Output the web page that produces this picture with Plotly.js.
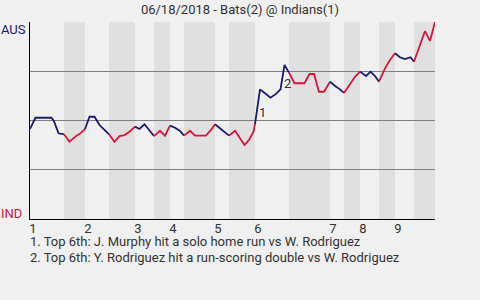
<!DOCTYPE html>
<html>
<head>
<meta charset="utf-8">
<script src="https://cdn.plot.ly/plotly-3.0.1.min.js"></script>
<style>html,body{margin:0;padding:0;background:#f0f0f0;}#chart{width:480px;height:300px;}</style>
</head>
<body>
<div id="chart"></div>
<script>
// Play index (x) and Bats (AUS) win probability in % (y)
const plays = [0.0,1.1,4.3,4.8,5.7,6.8,7.9,9.3,9.9,11.0,11.9,12.9,13.9,14.9,15.8,16.9,17.9,18.9,19.9,21.0,21.9,22.9,23.9,24.8,26.0,27.0,28.0,29.0,30.0,30.8,32.0,33.0,34.0,35.2,36.2,37.0,38.1,39.0,39.8,41.0,42.0,42.9,43.8,44.7,45.0,46.0,47.0,48.1,49.2,50.1,50.9,51.8,52.9,54.9,55.9,56.8,57.8,58.8,60.0,61.0,62.0,62.8,64.0,65.0,66.0,67.2,68.1,69.0,69.8,71.0,72.0,73.0,74.0,75.0,76.1,76.8,78.0,79.0,80.0,81.0];
const winProb = [45.7,51.4,51.4,49.7,43.5,43.0,39.2,42.3,43.1,45.7,51.9,51.9,47.7,45.2,43.0,39.2,42.1,42.6,44.3,46.9,45.7,48.1,45.2,42.1,44.8,42.3,47.4,46.3,44.7,42.3,44.8,42.3,42.3,42.3,45.2,48.1,46.0,44.3,42.3,44.8,41.0,37.6,40.1,44.3,48.2,65.8,63.8,61.6,63.5,65.8,78.2,74.3,68.9,68.9,73.6,73.6,64.6,64.6,69.7,67.5,65.8,64.0,68.4,72.2,74.8,72.6,74.8,72.6,69.7,76.5,80.7,84.1,82.1,81.2,82.1,79.8,88.3,95.4,90.4,100];
// Half-inning boundaries (top 1, bottom 1, top 2, ...)
const halfBounds = [0,6.8,11,15.8,21,24.8,28,30.8,37,39.8,45,51.8,60,62.8,66,69.8,73,76.8,81];
const inningLabels = ['1','2','3','4','5','6','7','8','9'];
const teamTop = 'AUS', teamBottom = 'IND';
const eventPlays = [46.0, 50.9];
const eventLabels = ['1','2'];
const notes = ['1. Top 6th: J. Murphy hit a solo home run vs W. Rodriguez',
               '2. Top 6th: Y. Rodriguez hit a run-scoring double vs W. Rodriguez'];
const title = '06/18/2018 - Bats(2) @ Indians(1)';

const NAVY = '#191970', RED = '#d8143c';
const traces = [];
const shapes = [];
for (let h = 0; h < halfBounds.length - 1; h++) {
  const a = halfBounds[h], b = halfBounds[h+1];
  const xs = [], ys = [];
  plays.forEach((p, i) => { if (p >= a - 1e-6 && p <= b + 1e-6) { xs.push(p); ys.push(winProb[i]); } });
  traces.push({x: xs, y: ys, mode: 'lines', type: 'scatter', hoverinfo: 'skip',
    line: {color: h % 2 === 0 ? NAVY : RED, width: 1.8}, showlegend: false});
  if (h % 2 === 1) {
    shapes.push({type: 'rect', xref: 'x', yref: 'paper', x0: a, x1: b, y0: 0, y1: 1,
      fillcolor: '#e0e0e0', line: {width: 0}, layer: 'below'});
  }
}
const inningStarts = halfBounds.filter((v, i) => i % 2 === 0).slice(0, 9);

const annotations = [];
eventPlays.forEach((p, k) => {
  const i = plays.indexOf(p);
  annotations.push({x: (plays[i] + plays[i-1]) / 2, y: (winProb[i] + winProb[i-1]) / 2,
    xref: 'x', yref: 'y', text: eventLabels[k], showarrow: false,
    xanchor: 'left', yanchor: 'middle', xshift: -1, yshift: -6,
    font: {size: 13, color: '#333', family: 'Roboto'}});
});
annotations.push({x: 0, y: 100, xref: 'paper', yref: 'y', text: teamTop, showarrow: false,
  xanchor: 'right', yanchor: 'middle', xshift: -2, yshift: -7, font: {size: 13, color: NAVY, family: 'Roboto'}});
annotations.push({x: 0, y: 0, xref: 'paper', yref: 'y', text: teamBottom, showarrow: false,
  xanchor: 'right', yanchor: 'middle', xshift: -6, yshift: 6, font: {size: 13, color: RED, family: 'Roboto'}});
notes.forEach((t, k) => {
  annotations.push({x: 0, y: 0, xref: 'paper', yref: 'paper', text: t, showarrow: false,
    xanchor: 'left', yanchor: 'middle', xshift: -2, yshift: -22 - 16 * k,
    font: {size: 13, color: '#333', family: 'Roboto'}});
});

const layout = {
  width: 480, height: 300,
  margin: {l: 30, r: 45, t: 22, b: 81},
  paper_bgcolor: '#f0f0f0', plot_bgcolor: '#f0f0f0',
  font: {family: 'Roboto', size: 13, color: '#333'},
  title: {text: title, x: 0.5, xanchor: 'center', y: 0.97, yanchor: 'middle', font: {size: 13, color: '#333', family: 'Roboto'}},
  xaxis: {range: [0, 81], showgrid: false, zeroline: false, showline: true, linecolor: '#000', linewidth: 1,
    ticks: '', tickvals: inningStarts.map(v => v + 0.6), ticktext: inningLabels, ticklabelstandoff: -3,
    tickfont: {size: 13, color: '#333'}, fixedrange: true},
  yaxis: {range: [0, 100], tickvals: [25, 50, 75, 100], showticklabels: false, showgrid: true,
    gridcolor: '#808080', gridwidth: 1, zeroline: false, showline: true, linecolor: '#000', linewidth: 1,
    ticks: '', fixedrange: true},
  shapes: shapes,
  annotations: annotations
};
Plotly.newPlot('chart', traces, layout, {displayModeBar: false, staticPlot: true});
</script>
</body>
</html>
